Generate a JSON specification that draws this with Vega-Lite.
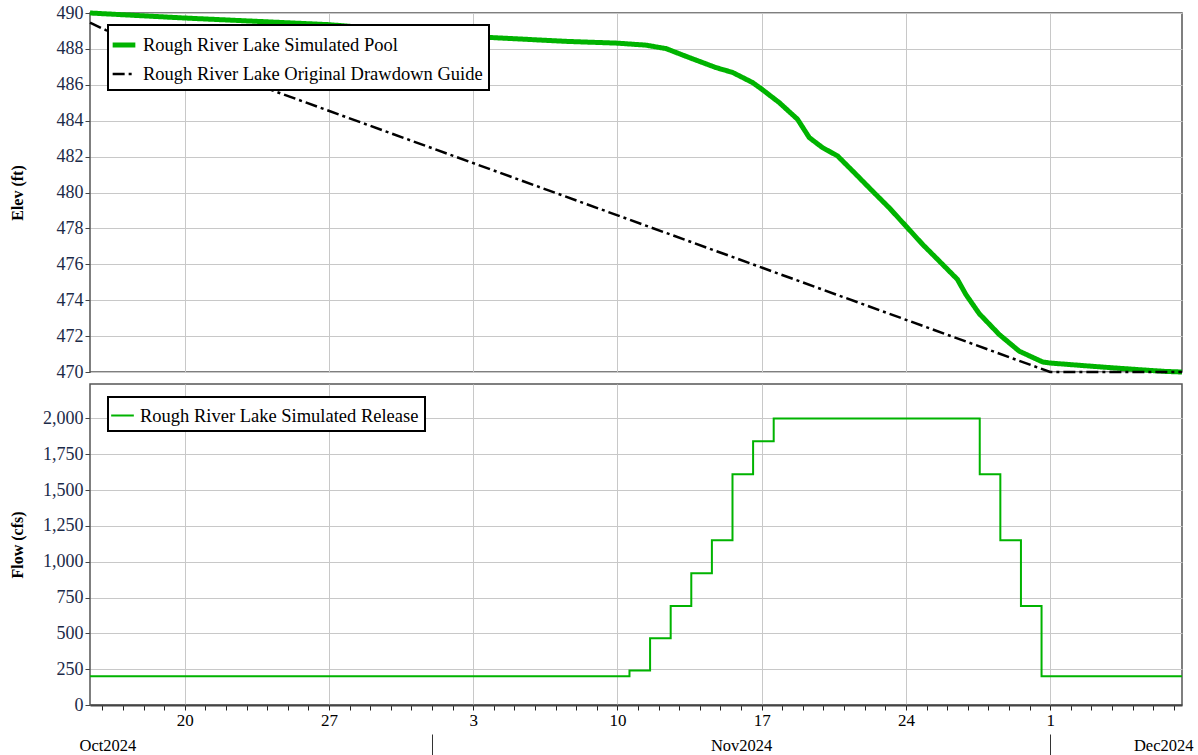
{
  "$schema": "https://vega.github.io/schema/vega-lite/v6.json",
  "background": "white",
  "padding": {"left": 8, "top": 2, "right": 5, "bottom": 0},
  "spacing": 0,
  "config": {
    "font": "Liberation Serif",
    "view": {"stroke": "#555555", "strokeWidth": 1.5},
    "axis": {
      "labelFont": "Liberation Serif",
      "labelFontSize": 18,
      "labelColor": "#1b2a48",
      "titleFont": "Liberation Serif",
      "titleFontSize": 16,
      "titleFontWeight": "bold",
      "titleColor": "black",
      "gridColor": "#c8c8c8",
      "gridWidth": 1,
      "tickColor": "#444444",
      "domainColor": "#444444"
    },
    "legend": {
      "labelFont": "Liberation Serif",
      "labelFontSize": 18.5,
      "labelColor": "black",
      "symbolType": "stroke",
      "symbolSize": 515,
      "symbolOffset": -4,
      "strokeColor": "black",
      "fillColor": "white",
      "padding": 6,
      "rowPadding": 6,
      "labelOffset": 5,
      "labelLimit": 0
    }
  },
  "resolve": {
    "scale": {"color": "independent", "strokeDash": "independent", "strokeWidth": "independent"},
    "legend": {"color": "independent", "strokeDash": "independent", "strokeWidth": "independent"}
  },
  "datasets": {
    "elev": [
      {"t": "2024-10-15T09:36:00Z", "v": 490.00, "s": "Rough River Lake Simulated Pool"},
      {"t": "2024-10-20T00:00:00Z", "v": 489.72, "s": "Rough River Lake Simulated Pool"},
      {"t": "2024-10-27T00:00:00Z", "v": 489.35, "s": "Rough River Lake Simulated Pool"},
      {"t": "2024-11-03T18:30:00Z", "v": 488.64, "s": "Rough River Lake Simulated Pool"},
      {"t": "2024-11-07T12:00:00Z", "v": 488.42, "s": "Rough River Lake Simulated Pool"},
      {"t": "2024-11-10T00:00:00Z", "v": 488.32, "s": "Rough River Lake Simulated Pool"},
      {"t": "2024-11-11T09:00:00Z", "v": 488.21, "s": "Rough River Lake Simulated Pool"},
      {"t": "2024-11-12T08:24:00Z", "v": 488.02, "s": "Rough River Lake Simulated Pool"},
      {"t": "2024-11-13T11:30:00Z", "v": 487.52, "s": "Rough River Lake Simulated Pool"},
      {"t": "2024-11-14T18:40:00Z", "v": 486.96, "s": "Rough River Lake Simulated Pool"},
      {"t": "2024-11-15T14:00:00Z", "v": 486.69, "s": "Rough River Lake Simulated Pool"},
      {"t": "2024-11-16T13:10:00Z", "v": 486.13, "s": "Rough River Lake Simulated Pool"},
      {"t": "2024-11-17T00:00:00Z", "v": 485.76, "s": "Rough River Lake Simulated Pool"},
      {"t": "2024-11-17T20:25:00Z", "v": 485.01, "s": "Rough River Lake Simulated Pool"},
      {"t": "2024-11-18T17:45:00Z", "v": 484.08, "s": "Rough River Lake Simulated Pool"},
      {"t": "2024-11-19T07:25:00Z", "v": 483.06, "s": "Rough River Lake Simulated Pool"},
      {"t": "2024-11-19T22:50:00Z", "v": 482.50, "s": "Rough River Lake Simulated Pool"},
      {"t": "2024-11-20T16:20:00Z", "v": 482.04, "s": "Rough River Lake Simulated Pool"},
      {"t": "2024-11-21T13:40:00Z", "v": 481.02, "s": "Rough River Lake Simulated Pool"},
      {"t": "2024-11-22T09:00:00Z", "v": 480.08, "s": "Rough River Lake Simulated Pool"},
      {"t": "2024-11-23T04:30:00Z", "v": 479.15, "s": "Rough River Lake Simulated Pool"},
      {"t": "2024-11-24T00:00:00Z", "v": 478.13, "s": "Rough River Lake Simulated Pool"},
      {"t": "2024-11-24T19:25:00Z", "v": 477.11, "s": "Rough River Lake Simulated Pool"},
      {"t": "2024-11-25T14:50:00Z", "v": 476.18, "s": "Rough River Lake Simulated Pool"},
      {"t": "2024-11-26T12:00:00Z", "v": 475.16, "s": "Rough River Lake Simulated Pool"},
      {"t": "2024-11-26T21:50:00Z", "v": 474.32, "s": "Rough River Lake Simulated Pool"},
      {"t": "2024-11-27T13:25:00Z", "v": 473.25, "s": "Rough River Lake Simulated Pool"},
      {"t": "2024-11-28T12:40:00Z", "v": 472.09, "s": "Rough River Lake Simulated Pool"},
      {"t": "2024-11-29T12:00:00Z", "v": 471.16, "s": "Rough River Lake Simulated Pool"},
      {"t": "2024-11-30T15:10:00Z", "v": 470.56, "s": "Rough River Lake Simulated Pool"},
      {"t": "2024-12-01T00:00:00Z", "v": 470.50, "s": "Rough River Lake Simulated Pool"},
      {"t": "2024-12-02T13:25:00Z", "v": 470.36, "s": "Rough River Lake Simulated Pool"},
      {"t": "2024-12-04T04:35:00Z", "v": 470.22, "s": "Rough River Lake Simulated Pool"},
      {"t": "2024-12-05T23:00:00Z", "v": 470.08, "s": "Rough River Lake Simulated Pool"},
      {"t": "2024-12-06T15:00:00Z", "v": 470.03, "s": "Rough River Lake Simulated Pool"},
      {"t": "2024-12-07T09:36:00Z", "v": 470.00, "s": "Rough River Lake Simulated Pool"},
      {"t": "2024-10-15T09:36:00Z", "v": 489.46, "s": "Rough River Lake Original Drawdown Guide"},
      {"t": "2024-10-16T04:00:00Z", "v": 489.05, "s": "Rough River Lake Original Drawdown Guide"},
      {"t": "2024-12-01T00:00:00Z", "v": 470.00, "s": "Rough River Lake Original Drawdown Guide"},
      {"t": "2024-12-07T09:36:00Z", "v": 470.00, "s": "Rough River Lake Original Drawdown Guide"}
    ],
    "flow": [
      {"t": "2024-10-15T09:36:00Z", "q": 200, "s": "Rough River Lake Simulated Release"},
      {"t": "2024-11-10T14:00:00Z", "q": 240, "s": "Rough River Lake Simulated Release"},
      {"t": "2024-11-11T14:00:00Z", "q": 465, "s": "Rough River Lake Simulated Release"},
      {"t": "2024-11-12T14:00:00Z", "q": 690, "s": "Rough River Lake Simulated Release"},
      {"t": "2024-11-13T14:00:00Z", "q": 920, "s": "Rough River Lake Simulated Release"},
      {"t": "2024-11-14T14:00:00Z", "q": 1150, "s": "Rough River Lake Simulated Release"},
      {"t": "2024-11-15T14:00:00Z", "q": 1610, "s": "Rough River Lake Simulated Release"},
      {"t": "2024-11-16T14:00:00Z", "q": 1840, "s": "Rough River Lake Simulated Release"},
      {"t": "2024-11-17T14:00:00Z", "q": 2000, "s": "Rough River Lake Simulated Release"},
      {"t": "2024-11-27T14:00:00Z", "q": 1610, "s": "Rough River Lake Simulated Release"},
      {"t": "2024-11-28T14:00:00Z", "q": 1150, "s": "Rough River Lake Simulated Release"},
      {"t": "2024-11-29T14:00:00Z", "q": 690, "s": "Rough River Lake Simulated Release"},
      {"t": "2024-11-30T14:00:00Z", "q": 200, "s": "Rough River Lake Simulated Release"},
      {"t": "2024-12-07T09:36:00Z", "q": 200, "s": "Rough River Lake Simulated Release"}
    ]
  },
  "vconcat": [
    {
      "width": 1092,
      "height": 359,
      "data": {"name": "elev"},
      "mark": {"type": "line", "interpolate": "linear"},
      "encoding": {
        "x": {
          "field": "t", "type": "temporal",
          "scale": {"type": "utc", "domain": [
            {"year": 2024, "month": 10, "date": 15, "hours": 9, "minutes": 36, "utc": true},
            {"year": 2024, "month": 12, "date": 7, "hours": 9, "minutes": 36, "utc": true}]},
          "axis": {
            "title": null, "labels": false, "ticks": false, "domain": false, "grid": true,
            "values": [
              {"year": 2024, "month": 10, "date": 20, "utc": true},
              {"year": 2024, "month": 10, "date": 27, "utc": true},
              {"year": 2024, "month": 11, "date": 3, "utc": true},
              {"year": 2024, "month": 11, "date": 10, "utc": true},
              {"year": 2024, "month": 11, "date": 17, "utc": true},
              {"year": 2024, "month": 11, "date": 24, "utc": true},
              {"year": 2024, "month": 12, "date": 1, "utc": true}]
          }
        },
        "y": {
          "field": "v", "type": "quantitative",
          "scale": {"domain": [470, 490], "nice": false, "zero": false},
          "axis": {
            "title": "Elev (ft)", "values": [470, 472, 474, 476, 478, 480, 482, 484, 486, 488, 490],
            "tickSize": 5, "labelPadding": 2, "domain": false, "grid": true,
            "titleX": -73, "titleBaseline": "middle"
          }
        },
        "color": {
          "field": "s", "type": "nominal",
          "scale": {"domain": ["Rough River Lake Simulated Pool", "Rough River Lake Original Drawdown Guide"], "range": ["#00b300", "#000000"]},
          "legend": {"title": null, "orient": "none", "legendX": 18, "legendY": 12, "encode": {"legend": {"update": {"strokeWidth": {"value": 2}}}}}
        },
        "strokeDash": {
          "field": "s", "type": "nominal",
          "scale": {"domain": ["Rough River Lake Simulated Pool", "Rough River Lake Original Drawdown Guide"], "range": [[1, 0], [12, 4, 3, 4]]},
          "legend": {"title": null, "orient": "none", "legendX": 18, "legendY": 12, "encode": {"legend": {"update": {"strokeWidth": {"value": 2}}}}}
        },
        "strokeWidth": {
          "field": "s", "type": "nominal",
          "scale": {"domain": ["Rough River Lake Simulated Pool", "Rough River Lake Original Drawdown Guide"], "range": [5, 2.5]},
          "legend": {"title": null, "orient": "none", "legendX": 18, "legendY": 12, "encode": {"legend": {"update": {"strokeWidth": {"value": 2}}}}}
        }
      }
    },
    {
      "spacing": 5,
      "vconcat": [
        {
          "width": 1092,
          "height": 321,
          "data": {"name": "flow"},
          "mark": {"type": "line", "interpolate": "step-after", "strokeWidth": 2},
          "encoding": {
            "x": {
              "field": "t", "type": "temporal",
              "scale": {"type": "utc", "domain": [
                {"year": 2024, "month": 10, "date": 15, "hours": 9, "minutes": 36, "utc": true},
                {"year": 2024, "month": 12, "date": 7, "hours": 9, "minutes": 36, "utc": true}]},
              "axis": {
                "title": null, "orient": "bottom",
                "tickCount": {"interval": "day", "step": 1},
                "labelExpr": "utcday(datum.value) == 0 ? utcFormat(datum.value, '%-d') : ''",
                "gridOpacity": {"condition": {"test": "utcday(datum.value) == 0", "value": 1}, "value": 0},
                "labelOverlap": false,
                "labelColor": "black", "labelFontSize": 17,
                "tickSize": 5, "tickColor": "#222222", "labelPadding": 2, "grid": true,
                "domain": true, "domainWidth": 2, "domainColor": "#444444"
              }
            },
            "y": {
              "field": "q", "type": "quantitative",
              "scale": {"domain": [0, 2240], "nice": false},
              "axis": {
                "title": "Flow (cfs)", "values": [0, 250, 500, 750, 1000, 1250, 1500, 1750, 2000],
                "format": ",d", "tickSize": 5, "labelPadding": 2, "domain": false, "grid": true,
                "titleX": -73, "titleBaseline": "middle"
              }
            },
            "color": {
              "field": "s", "type": "nominal",
              "scale": {"domain": ["Rough River Lake Simulated Release"], "range": ["#00b300"]},
              "legend": {"title": null, "orient": "none", "legendX": 18, "legendY": 13, "symbolStrokeWidth": 2, "encode": {"legend": {"update": {"strokeWidth": {"value": 2}}}}}
            }
          }
        },
        {
          "width": 1092,
          "height": 22,
          "view": {"stroke": null},
          "data": {"name": "flow"},
          "mark": {"type": "rule", "opacity": 0},
          "encoding": {
            "x": {
              "field": "t", "type": "temporal",
              "scale": {"type": "utc", "domain": [
                {"year": 2024, "month": 10, "date": 15, "hours": 9, "minutes": 36, "utc": true},
                {"year": 2024, "month": 12, "date": 7, "hours": 9, "minutes": 36, "utc": true}]},
              "axis": {
                "title": null, "orient": "bottom", "offset": -22,
                "domain": false, "ticks": false, "tickSize": 0,
                "grid": true, "gridColor": "#333333", "gridWidth": 1,
                "gridOpacity": {"condition": {"test": "utcdate(datum.value) == 1", "value": 1}, "value": 0},
                "labelExpr": "utcdate(datum.value) == 1 ? '' : utcFormat(datum.value, '%b%Y')",
                "labelColor": "black", "labelFontSize": 16.5, "labelPadding": 3,
                "labelFlush": 2, "labelFlushOffset": 11, "labelOverlap": false,
                "values": [
                  {"year": 2024, "month": 10, "date": 15, "hours": 9, "minutes": 36, "utc": true},
                  {"year": 2024, "month": 11, "date": 1, "utc": true},
                  {"year": 2024, "month": 11, "date": 16, "utc": true},
                  {"year": 2024, "month": 12, "date": 1, "utc": true},
                  {"year": 2024, "month": 12, "date": 7, "hours": 9, "minutes": 36, "utc": true}]
              }
            }
          }
        }
      ]
    }
  ]
}
